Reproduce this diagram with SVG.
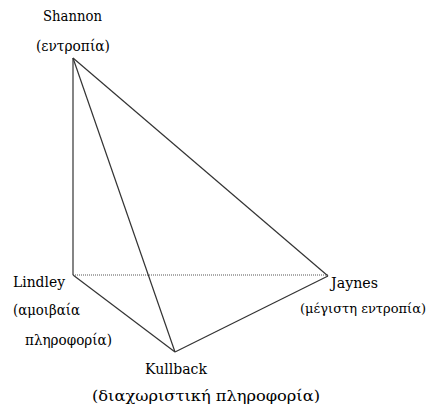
<svg xmlns="http://www.w3.org/2000/svg" width="431" height="412" viewBox="0 0 431 412">
<style>
.e{stroke:#333;stroke-width:1.2;fill:none}
.d{stroke:#555;stroke-width:1;stroke-dasharray:1,1;fill:none}
text{font-family:"DejaVu Serif","Liberation Serif",serif;font-size:15px;fill:#000}
</style>
<rect width="431" height="412" fill="#fff"/>
<g id="connectors">
<line class="e" x1="73" y1="58" x2="73" y2="275"/>
<line class="e" x1="73" y1="58" x2="175" y2="352"/>
<line class="e" x1="73" y1="58" x2="328" y2="276"/>
<line class="e" x1="73" y1="275" x2="175" y2="352"/>
<line class="e" x1="175" y1="352" x2="328" y2="276"/>
<line class="d" x1="73" y1="275" x2="328" y2="275"/>
</g>
<g id="shannon">
<text x="43" y="21" textLength="59" lengthAdjust="spacingAndGlyphs">Shannon</text>
<text x="36" y="51" textLength="74" lengthAdjust="spacingAndGlyphs">(εντροπία)</text>
</g>
<g id="lindley">
<text x="13" y="287" textLength="52" lengthAdjust="spacingAndGlyphs">Lindley</text>
<text x="13" y="315" textLength="67" lengthAdjust="spacingAndGlyphs">(αμοιβαία</text>
<text x="25" y="345" textLength="87" lengthAdjust="spacingAndGlyphs">πληροφορία)</text>
</g>
<g id="kullback">
<text x="145" y="374" textLength="62" lengthAdjust="spacingAndGlyphs">Kullback</text>
<text x="92" y="401" textLength="228" lengthAdjust="spacingAndGlyphs">(διαχωριστική πληροφορία)</text>
</g>
<g id="jaynes">
<text x="331" y="288" textLength="47" lengthAdjust="spacingAndGlyphs">Jaynes</text>
<text x="300" y="313" style="font-size:13px" textLength="126" lengthAdjust="spacingAndGlyphs">(μέγιστη εντροπία)</text>
</g>
</svg>
